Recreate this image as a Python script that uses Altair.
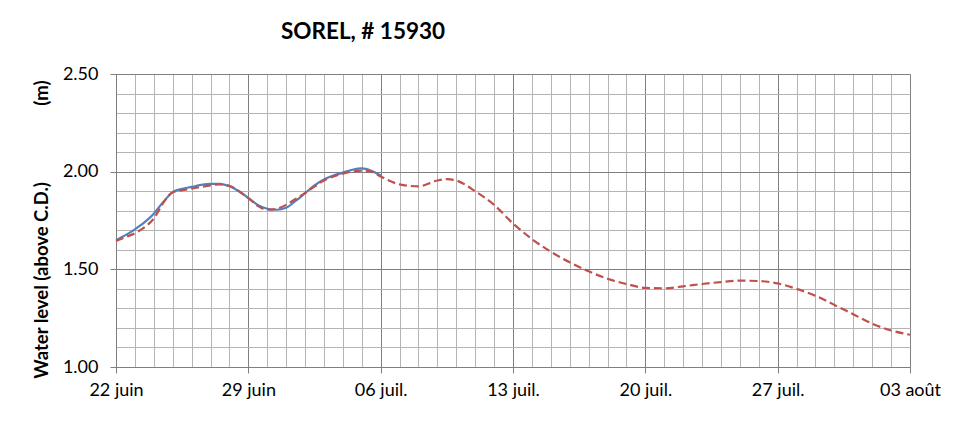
import json
import altair as alt
import pandas as pd

# Day offsets from 22 juin
blue_days = [0, 0.5, 1, 1.5, 2, 2.5, 3, 3.5, 4, 4.5, 5, 5.5, 6, 6.5, 7, 7.5, 8, 8.5, 9, 9.5,
             10, 10.5, 11, 11.5, 12, 12.5, 13, 13.5, 14]
blue_vals = [1.650, 1.675, 1.705, 1.740, 1.785, 1.845, 1.895, 1.912, 1.922, 1.932, 1.938, 1.937,
             1.925, 1.900, 1.865, 1.830, 1.810, 1.805, 1.815, 1.850, 1.890, 1.930, 1.960, 1.980,
             1.995, 2.010, 2.017, 2.005, 1.980]

red_days = [0, 0.5, 1, 1.5, 2, 2.5, 3, 3.5, 4, 4.5, 5, 5.5, 6, 6.5, 7, 7.5, 8, 8.5, 9, 9.5,
            10, 11, 12, 13, 13.5, 14, 15, 16, 17, 17.5, 18, 19, 20, 21, 22, 23, 24, 25, 26,
            27, 28, 29, 30, 31, 32, 33, 34, 35, 36, 37, 38, 39, 40, 41, 42]
red_vals = [1.645, 1.665, 1.685, 1.715, 1.760, 1.840, 1.895, 1.905, 1.913, 1.922, 1.930, 1.935,
            1.928, 1.900, 1.865, 1.825, 1.805, 1.810, 1.830, 1.860, 1.890, 1.955, 1.990, 2.005,
            2.000, 1.975, 1.935, 1.925, 1.955, 1.962, 1.955, 1.900, 1.830, 1.735, 1.655, 1.590,
            1.536, 1.490, 1.452, 1.425, 1.405, 1.403, 1.413, 1.425, 1.435, 1.442, 1.440, 1.428,
            1.400, 1.365, 1.318, 1.270, 1.222, 1.187, 1.165]

x_labels = ["22 juin", "29 juin", "06 juil.", "13 juil.", "20 juil.", "27 juil.", "03 août"]
x_grid = list(range(0, 43))
y_grid = [round(1.0 + 0.1 * i, 1) for i in range(16)]

blue_df = pd.DataFrame({"day": blue_days, "level": blue_vals})
red_df = pd.DataFrame({"day": red_days, "level": red_vals})

FONT = "Lato"
MINOR = "#b4b4b4"
MAJOR = "#7f7f7f"

x_major = "datum.value % 7 === 0"
y_major = "abs(datum.value * 2 - round(datum.value * 2)) < 0.001"

x_enc = alt.X(
    "day:Q",
    scale=alt.Scale(domain=[0, 42], nice=False, zero=False),
    axis=alt.Axis(
        values=x_grid,
        title=None,
        grid=True,
        gridColor={"condition": {"test": x_major, "value": MAJOR}, "value": MINOR},
        gridWidth=1,
        tickOpacity={"condition": {"test": x_major, "value": 1}, "value": 0},
        tickColor=MAJOR,
        tickSize=6,
        domainColor=MAJOR,
        labelExpr=x_major + " ? " + json.dumps(x_labels) + "[datum.value / 7] : ''",
        labelOverlap=False,
        labelFont=FONT,
        labelFontSize=18,
        labelColor="black",
        labelPadding=8,
        labelFlush=False,
    ),
)

y_enc = alt.Y(
    "level:Q",
    scale=alt.Scale(domain=[1.0, 2.5], nice=False, zero=False),
    axis=alt.Axis(
        values=y_grid,
        title="Water level (above C.D.)" + "\u00a0" * 17 + "(m)",
        titleFont=FONT,
        titleFontSize=18.5,
        titleFontWeight="bold",
        titleColor="black",
        titleAngle=270,
        titleX=-75,
        titleY=155,
        titleAlign="center",
        titleBaseline="middle",
        grid=True,
        gridColor={"condition": {"test": y_major, "value": MAJOR}, "value": MINOR},
        gridWidth=1,
        tickOpacity={"condition": {"test": y_major, "value": 1}, "value": 0},
        tickColor=MAJOR,
        tickSize=6,
        domainColor=MAJOR,
        labelExpr=y_major + " ? format(datum.value, '.2f') : ''",
        labelOverlap=False,
        labelFont=FONT,
        labelFontSize=18,
        labelColor="black",
        labelPadding=12,
        labelFlush=False,
    ),
)

blue_line = alt.Chart(blue_df).mark_line(
    color="#4F81BD", strokeWidth=2.2, interpolate="monotone"
).encode(x=x_enc, y=y_enc)

red_line = alt.Chart(red_df).mark_line(
    color="#C0504D", strokeWidth=2.2, strokeDash=[8, 4], interpolate="monotone"
).encode(x=x_enc, y=y_enc)

chart = alt.layer(blue_line, red_line).properties(
    width=794,
    height=293,
    title=alt.TitleParams(
        "SOREL, # 15930",
        anchor="start",
        dx=249,
        offset=22,
        font=FONT,
        fontSize=22.5,
        fontWeight="bold",
        color="black",
    ),
    autosize=alt.AutoSizeParams(type="none"),
    padding={"left": 108, "top": 66, "right": 51, "bottom": 46},
).configure_view(stroke=None)

chart.save("out.html", embed_options={"renderer": "svg", "actions": False})
